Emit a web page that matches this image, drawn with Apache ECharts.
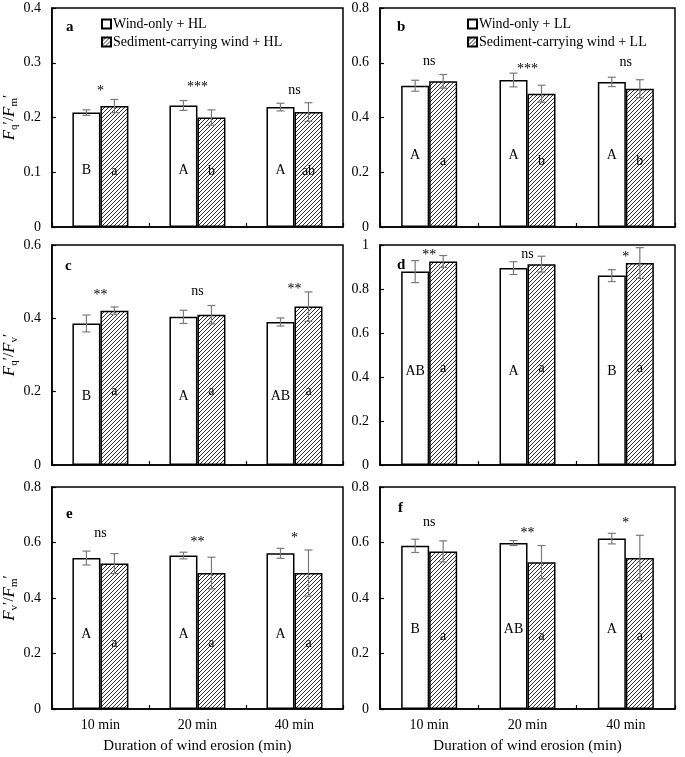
<!DOCTYPE html>
<html><head><meta charset="utf-8">
<script src="https://cdn.jsdelivr.net/npm/echarts@6/dist/echarts.min.js"></script>
<style>html,body{margin:0;padding:0;background:#fff}#c{width:685px;height:757px}</style>
</head><body><div id="c"></div>
<script>
// ---------------- data ----------------
const categories = ['10 min', '20 min', '40 min'];

// Panel a: Fq'/Fm' (HL)
const aWind = [0.209, 0.222, 0.219];
const aWindErr = [0.005, 0.009, 0.007];
const aSed = [0.221, 0.200, 0.210];
const aSedErr = [0.012, 0.014, 0.017];
const aWindLetters = ['B', 'A', 'A'];
const aSedLetters = ['a', 'b', 'ab'];
const aSig = ['*', '***', 'ns'];

// Panel b: Fq'/Fm' (LL)
const bWind = [0.516, 0.537, 0.530];
const bWindErr = [0.020, 0.025, 0.017];
const bSed = [0.532, 0.487, 0.505];
const bSedErr = [0.025, 0.031, 0.033];
const bWindLetters = ['A', 'A', 'A'];
const bSedLetters = ['a', 'b', 'b'];
const bSig = ['ns', '***', 'ns'];

// Panel c: Fq'/Fv' (HL)
const cWind = [0.386, 0.404, 0.390];
const cWindErr = [0.023, 0.018, 0.011];
const cSed = [0.421, 0.410, 0.432];
const cSedErr = [0.010, 0.025, 0.040];
const cWindLetters = ['B', 'A', 'AB'];
const cSedLetters = ['a', 'a', 'a'];
const cSig = ['**', 'ns', '**'];

// Panel d: Fq'/Fv' (LL)
const dWind = [0.879, 0.895, 0.861];
const dWindErr = [0.050, 0.029, 0.027];
const dSed = [0.925, 0.913, 0.918];
const dSedErr = [0.027, 0.036, 0.070];
const dWindLetters = ['AB', 'A', 'B'];
const dSedLetters = ['a', 'a', 'a'];
const dSig = ['**', 'ns', '*'];

// Panel e: Fv'/Fm' (HL)
const eWind = [0.544, 0.553, 0.561];
const eWindErr = [0.025, 0.012, 0.018];
const eSed = [0.524, 0.490, 0.490];
const eSedErr = [0.036, 0.057, 0.083];
const eWindLetters = ['A', 'A', 'A'];
const eSedLetters = ['a', 'a', 'a'];
const eSig = ['ns', '**', '*'];

// Panel f: Fv'/Fm' (LL)
const fWind = [0.588, 0.598, 0.614];
const fWindErr = [0.024, 0.009, 0.019];
const fSed = [0.568, 0.529, 0.544];
const fSedErr = [0.038, 0.060, 0.082];
const fWindLetters = ['B', 'AB', 'A'];
const fSedLetters = ['a', 'a', 'a'];
const fSig = ['ns', '**', '*'];

const yTicksA = { max: 0.4, interval: 0.1 };
const yTicksB = { max: 0.8, interval: 0.2 };
const yTicksC = { max: 0.6, interval: 0.2 };
const yTicksD = { max: 1, interval: 0.2 };
const yTicksE = { max: 0.8, interval: 0.2 };
const yTicksF = { max: 0.8, interval: 0.2 };

const windHL = 'Wind-only + HL', sedHL = 'Sediment-carrying wind + HL';
const windLL = 'Wind-only + LL', sedLL = 'Sediment-carrying wind + LL';
const xTitle = 'Duration of wind erosion (min)';

// ---------------- layout / style ----------------
const FONT = '"Liberation Serif", "Times New Roman", serif';

function hatchCanvas() {
  const s = 4;
  const cv = document.createElement('canvas');
  cv.width = s; cv.height = s;
  const ctx = cv.getContext('2d');
  ctx.fillStyle = '#fff'; ctx.fillRect(0, 0, s, s);
  ctx.strokeStyle = '#1a1a1a'; ctx.lineWidth = 0.9;
  ctx.beginPath();
  ctx.moveTo(-1, s + 1); ctx.lineTo(s + 1, -1);
  ctx.moveTo(-1, 1); ctx.lineTo(1, -1);
  ctx.moveTo(s - 1, s + 1); ctx.lineTo(s + 1, s - 1);
  ctx.stroke();
  return cv;
}
const hatch = { image: hatchCanvas(), repeat: 'repeat' };

const panels = [
  { key: 'a', grid: { left: 48, top: 8, width: 295, height: 219 }, yt: yTicksA,
    wind: aWind, windErr: aWindErr, sed: aSed, sedErr: aSedErr,
    wl: aWindLetters, sl: aSedLetters, sig: aSig, names: [windHL, sedHL],
    sigY: [0.248, 0.256, 0.250], letD: [50, 49], yname: ['q', 'm'], xlab: false,
    tag: [65, 25] },
  { key: 'b', grid: { left: 380, top: 8, width: 295, height: 219 }, yt: yTicksB,
    wind: bWind, windErr: bWindErr, sed: bSed, sedErr: bSedErr,
    wl: bWindLetters, sl: bSedLetters, sig: bSig, names: [windLL, sedLL],
    sigY: [0.606, 0.577, 0.603], letD: [65, 59], yname: null, xlab: false,
    tag: [396, 25] },
  { key: 'c', grid: { left: 48, top: 245, width: 295, height: 220 }, yt: yTicksC,
    wind: cWind, windErr: cWindErr, sed: cSed, sedErr: cSedErr,
    wl: cWindLetters, sl: cSedLetters, sig: cSig, names: [windHL, sedHL],
    sigY: [0.462, 0.475, 0.480], letD: [62, 67], yname: ['q', 'v'], xlab: false,
    tag: [64, 264] },
  { key: 'd', grid: { left: 380, top: 245, width: 295, height: 220 }, yt: yTicksD,
    wind: dWind, windErr: dWindErr, sed: dSed, sedErr: dSedErr,
    wl: dWindLetters, sl: dSedLetters, sig: dSig, names: [windLL, sedLL],
    sigY: [0.951, 0.959, 0.944], letD: [87, 90], yname: null, xlab: false,
    tag: [396, 263] },
  { key: 'e', grid: { left: 48, top: 487, width: 295, height: 222 }, yt: yTicksE,
    wind: eWind, windErr: eWindErr, sed: eSed, sedErr: eSedErr,
    wl: eWindLetters, sl: eSedLetters, sig: eSig, names: [windHL, sedHL],
    sigY: [0.634, 0.602, 0.616], letD: [68, 59], yname: ['v', 'm'], xlab: true,
    tag: [65, 512] },
  { key: 'f', grid: { left: 380, top: 487, width: 295, height: 222 }, yt: yTicksF,
    wind: fWind, windErr: fWindErr, sed: fSed, sedErr: fSedErr,
    wl: fWindLetters, sl: fSedLetters, sig: fSig, names: [windLL, sedLL],
    sigY: [0.673, 0.633, 0.669], letD: [73, 66], yname: null, xlab: true,
    tag: [397, 506] }
];

const BAR_W = 28;
const grids = [], xAxes = [], yAxes = [], series = [], titles = [];

function errRender(shift) {
  return function (params, api) {
    const i = api.value(0), m = api.value(1), e = api.value(2);
    const t = api.coord([i, m + e]), b = api.coord([i, m - e]);
    const x = t[0] + shift;
    const st = { stroke: '#7a7a7a', lineWidth: 1.2 };
    return { type: 'group', children: [
      { type: 'line', shape: { x1: x, y1: t[1], x2: x, y2: b[1] }, style: st },
      { type: 'line', shape: { x1: x - 4, y1: t[1], x2: x + 4, y2: t[1] }, style: st },
      { type: 'line', shape: { x1: x - 4, y1: b[1], x2: x + 4, y2: b[1] }, style: st }
    ]};
  };
}

function sigRender(texts) {
  return function (params, api) {
    const pt = api.coord([api.value(0), api.value(1)]);
    return {
      type: 'text', x: pt[0], y: pt[1],
      style: { text: texts[params.dataIndex], fill: '#000', font: '14px ' + FONT,
        align: 'center', verticalAlign: 'middle' }
    };
  };
}

panels.forEach((p, gi) => {
  grids.push(Object.assign({ show: true, borderColor: '#000', borderWidth: 1.5, backgroundColor: 'transparent' }, p.grid));
  xAxes.push({
    type: 'category', gridIndex: gi, data: categories,
    axisLine: { show: true, lineStyle: { color: '#000', width: 1.5 } },
    axisTick: { show: true, inside: true, length: 4, lineStyle: { color: '#000', width: 1.2 } },
    axisLabel: { show: p.xlab, color: '#000', fontFamily: FONT, fontSize: 14, margin: 9 },
    name: p.xlab ? xTitle : '', nameLocation: 'middle', nameGap: 30,
    nameTextStyle: { color: '#000', fontFamily: FONT, fontSize: 15 }
  });
  const y = {
    type: 'value', gridIndex: gi, min: 0, max: p.yt.max, interval: p.yt.interval,
    splitLine: { show: false },
    axisLine: { show: true, lineStyle: { color: '#000', width: 1.5 } },
    axisTick: { show: true, inside: true, length: 4, lineStyle: { color: '#000', width: 1.2 } },
    axisLabel: { color: '#000', fontFamily: FONT, fontSize: 14, margin: 11 }
  };
  if (p.yname) {
    y.name = '{i|F}{s|' + p.yname[0] + '}{n|\u2032/}{i|F}{s|' + p.yname[1] + '}{n|\u2032}';
    y.nameLocation = 'middle';
    y.nameGap = 24;
    y.nameTextStyle = {
      color: '#000', fontFamily: FONT, fontSize: 16,
      rich: {
        i: { fontFamily: FONT, fontStyle: 'italic', fontSize: 17, color: '#000', lineHeight: 20, verticalAlign: 'middle' },
        n: { fontFamily: FONT, fontSize: 15, color: '#000', lineHeight: 20, verticalAlign: 'middle' },
        s: { fontFamily: FONT, fontSize: 11, color: '#000', lineHeight: 11, verticalAlign: 'bottom' }
      }
    };
  }
  yAxes.push(y);

  const lbl = (letters, d) => ({
    show: true, position: 'insideBottom', distance: d, color: '#000',
    fontFamily: FONT, fontSize: 14, formatter: (q) => letters[q.dataIndex]
  });
  series.push({
    type: 'bar', name: p.names[0], xAxisIndex: gi, yAxisIndex: gi, data: p.wind,
    barWidth: BAR_W, barGap: '0%',
    itemStyle: { color: '#fff', borderColor: '#000', borderWidth: 1.5 },
    label: lbl(p.wl, p.letD[0]), emphasis: { disabled: true }, z: 2
  });
  series.push({
    type: 'bar', name: p.names[1], xAxisIndex: gi, yAxisIndex: gi, data: p.sed,
    barWidth: BAR_W, barGap: '0%',
    itemStyle: { color: hatch, borderColor: '#000', borderWidth: 1.5 },
    label: lbl(p.sl, p.letD[1]), emphasis: { disabled: true }, z: 2
  });
  series.push({
    type: 'custom', xAxisIndex: gi, yAxisIndex: gi, z: 5,
    data: p.wind.map((v, i) => [i, v, p.windErr[i]]),
    renderItem: errRender(-BAR_W / 2), silent: true
  });
  series.push({
    type: 'custom', xAxisIndex: gi, yAxisIndex: gi, z: 5,
    data: p.sed.map((v, i) => [i, v, p.sedErr[i]]),
    renderItem: errRender(BAR_W / 2), silent: true
  });
  series.push({
    type: 'custom', xAxisIndex: gi, yAxisIndex: gi, z: 6,
    data: p.sig.map((s, i) => [i, p.sigY[i]]),
    renderItem: sigRender(p.sig), silent: true
  });
  titles.push({
    text: p.key, left: p.tag[0] - 4, top: p.tag[1] - 10,
    textStyle: { color: '#000', fontFamily: FONT, fontWeight: 'bold', fontSize: 15 }
  });
});

const legendBase = {
  orient: 'vertical', itemWidth: 9, itemHeight: 9, itemGap: 4, icon: 'rect',
  textStyle: { color: '#000', fontFamily: FONT, fontSize: 14, padding: [0, 0, 0, -3] },
  selectedMode: false, padding: 0
};

const chart = echarts.init(document.getElementById('c'), null, { renderer: 'canvas' });
chart.setOption({
  animation: false,
  backgroundColor: '#fff',
  title: titles,
  legend: [
    Object.assign({}, legendBase, { data: [windHL, sedHL], left: 101, top: 17 }),
    Object.assign({}, legendBase, { data: [windLL, sedLL], left: 467, top: 17 })
  ],
  grid: grids, xAxis: xAxes, yAxis: yAxes, series: series
});
</script></body></html>
